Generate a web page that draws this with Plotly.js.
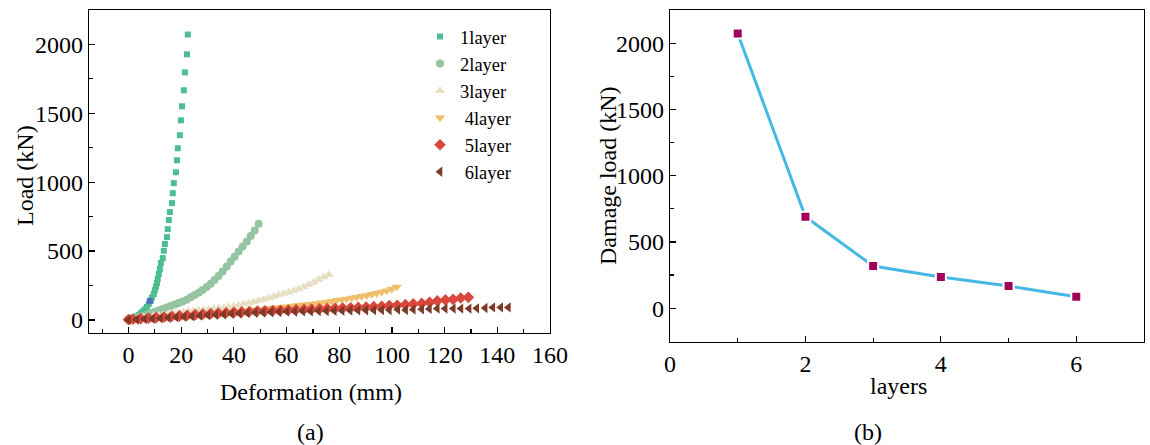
<!DOCTYPE html>
<html>
<head>
<meta charset="utf-8">
<script src="https://cdn.plot.ly/plotly-3.0.1.min.js"></script>
<style>html,body{margin:0;padding:0;background:#fff;}#chart{width:1150px;height:445px;}</style>
</head>
<body>
<div id="chart"></div>
<script>
// ---- Panel (a): load-deformation curves ----
const seriesNames = ["1layer", "2layer", "3layer", " 4layer", " 5layer", " 6layer"];

const x1 = [0.1,1.6,2.8,3.9,4.7,5.4,6.2,7.0,7.7,8.5,8.9,9.6,10.0,10.4,10.8,11.1,11.5,11.9,12.3,13.0,13.4,13.8,14.6,14.9,15.3,15.7,16.5,16.8,17.2,18.0,18.4,18.7,19.5,19.9,20.3,21.0,21.4,22.2,22.5];
const y1 = [7,17,26,36,48,62,77,94,116,140,164,188,215,241,268,299,333,370,413,449,502,551,601,659,725,783,848,920,993,1072,1159,1246,1341,1449,1551,1667,1797,1928,2072];

const x2 = [0,0.9,2.4,3.9,5.4,6.9,8.4,9.9,11.4,12.9,14.4,16.0,17.5,19.0,20.5,22.1,23.6,25.1,26.6,28.1,29.7,31.2,32.7,34.2,35.7,37.3,38.8,40.3,41.8,43.3,44.9,46.4,47.9,49.4];
const y2 = [4,8,14,21,29,38,48,58,68,79,90,101,112,122,133,147,164,181,198,217,239,263,290,319,352,388,425,459,497,533,570,609,649,698];

const x3 = [0,1.9,3.8,5.7,7.6,9.5,11.4,13.3,15.2,17.1,19.0,20.9,22.8,24.7,26.6,28.5,30.4,32.3,34.2,36.1,38.0,39.9,41.8,43.7,45.6,47.5,49.4,51.3,53.2,55.1,57.0,58.9,60.8,62.7,64.6,66.5,68.4,70.3,72.2,74.1,76.0];
const y3 = [3,8,13,18,23,28,33,38,43,48,53,58,62,66,70,73,76,80,84,89,94,99,105,113,121,130,139,149,160,170,181,191,201,212,225,239,256,272,292,311,328];

const x4 = [0,1.1,3.0,4.9,6.8,8.7,10.6,12.5,14.4,16.3,18.2,20.1,22.0,23.9,25.8,27.7,29.6,31.5,33.4,35.3,37.2,39.1,41.0,42.9,44.8,46.7,48.6,50.5,52.4,54.3,56.2,58.1,60.0,61.9,63.8,65.7,67.6,69.5,71.4,73.3,75.2,77.1,79.0,80.9,82.8,84.7,86.6,88.5,90.4,92.3,94.2,96.1,98.0,99.9,101.8];
const y4 = [1,3,5,7,9,11,14,16,18,21,23,26,28,30,33,36,39,42,45,48,51,54,57,60,64,68,72,76,80,84,88,92,96,100,104,108,112,116,120,124,128,135,142,147,152,159,164,171,178,186,193,203,212,225,239];

const x5 = [0,1.7,4.6,7.6,10.5,13.5,16.4,19.4,22.3,25.3,28.2,31.2,34.1,37.1,40.0,43.0,45.9,48.9,51.8,54.8,57.7,60.7,63.6,66.6,69.5,72.5,75.4,78.4,81.3,84.3,87.2,90.2,93.1,96.1,99.0,102.0,105.1,108.1,111.3,114.3,117.2,120.3,123.2,126.1,129.0];
const y5 = [2,5,9,13,17,21,26,30,34,38,42,46,49,52,55,58,61,64,66,68,70,72,74,76,78,80,82,84,86,88,91,93,96,99,104,106,111,116,120,128,138,145,149,159,164];

const x6 = [0,3.1,6.1,9.1,12.1,15.1,18.1,21.1,24.1,27.1,30.1,33.1,36.1,39.1,42.1,45.1,48.1,51.1,54.1,57.1,60.1,63.1,66.1,69.1,72.1,75.1,78.1,81.1,84.1,87.1,90.1,93.1,96.1,99.0,102.2,105.2,108.1,111.3,114.2,117.2,120.2,123.3,126.2,129.3,132.2,135.4,138.3,141.3,144.2];
const y6 = [0,3,6,9,12,16,19,23,27,31,35,38,41,44,47,50,52,54,56,58,60,61,62,63,64,65,66,67,68,69,70,71,72,72,75,72,75,77,80,82,82,82,82,82,84,87,91,91,91];

// stray blue marker visible in the reference
const xBlue = [8.1];
const yBlue = [138];

// ---- Panel (b): damage load vs layers ----
const layers = [1, 2, 3, 4, 5, 6];
const damageLoad = [2072, 690, 318, 236, 167, 86];

const font = "'Liberation Serif', 'Times New Roman', Times, serif";
const colors = ["#4cbe8f", "#95c4a2", "#e8dfc4", "#efc06c", "#d8473a", "#7c3a28"];
const symbols = ["square", "circle", "triangle-up", "triangle-down", "diamond", "triangle-left"];
const sizes = [6, 8, 9, 9, 9, 9];
const xs = [x1, x2, x3, x4, x5, x6];
const ys = [y1, y2, y3, y4, y5, y6];

const traces = [];
for (let i = 0; i < 6; i++) {
  traces.push({
    x: xs[i], y: ys[i], name: seriesNames[i], type: "scatter", mode: "markers",
    marker: {symbol: symbols[i], color: colors[i], size: sizes[i]},
    xaxis: "x", yaxis: "y"
  });
}
traces.push({
  x: xBlue, y: yBlue, type: "scatter", mode: "markers", showlegend: false,
  marker: {symbol: "square", color: "#4b6fc4", size: 6}, xaxis: "x", yaxis: "y"
});
traces.push({
  x: layers, y: damageLoad, type: "scatter", mode: "lines+markers", showlegend: false,
  line: {color: "#45b8e3", width: 3},
  marker: {symbol: "square", color: "#a0005a", size: 10, line: {color: "#ffffff", width: 2}},
  xaxis: "x2", yaxis: "y2"
});

const axBase = {
  showline: true, linecolor: "#000", linewidth: 1.3, mirror: true,
  ticks: "inside", ticklen: 6, tickwidth: 1.2, tickcolor: "#000",
  showgrid: false, zeroline: false,
  tickfont: {family: font, size: 24, color: "#000"}
};
function ax(extra) { return Object.assign(JSON.parse(JSON.stringify(axBase)), extra); }
const minorX = (d) => ({dtick: d, ticks: "inside", ticklen: 4, tickcolor: "#000", tickwidth: 1.2});

const titleFont = {family: font, size: 24, color: "#000"};
function note(text, x, y, angle) {
  return {text: text, xref: "paper", yref: "paper", x: x / 1150, y: 1 - y / 445,
    xanchor: "center", yanchor: "middle", showarrow: false, textangle: angle || 0, font: titleFont};
}

const layout = {
  width: 1150, height: 445,
  margin: {l: 0, r: 0, t: 0, b: 0},
  paper_bgcolor: "#fff", plot_bgcolor: "#fff",
  font: {family: font, color: "#000"},
  xaxis: ax({domain: [89/1150, 550/1150], range: [-15, 160], dtick: 20, tick0: 0, minor: minorX(10), anchor: "y"}),
  yaxis: ax({domain: [1 - 333/445, 1 - 10/445], range: [-95, 2250], dtick: 500, tick0: 0, minor: minorX(250), anchor: "x"}),
  xaxis2: ax({domain: [670/1150, 1144/1150], range: [0, 7], dtick: 2, tick0: 0, minor: minorX(1), anchor: "y2"}),
  yaxis2: ax({domain: [1 - 342/445, 1 - 10/445], range: [-255, 2250], dtick: 500, tick0: 0, minor: minorX(250), anchor: "x2"}),
  showlegend: true,
  legend: {x: 420/1150, y: 1 - 18/445, xanchor: "left", yanchor: "top",
    font: {family: font, size: 18.5, color: "#000"}, bgcolor: "rgba(0,0,0,0)", tracegroupgap: 0,
    itemwidth: 30},
  annotations: [
    note("Deformation (mm)", 311, 392),
    note("Load (kN)", 25, 176, -90),
    note("layers", 898, 386),
    note("Damage load (kN)", 608, 176, -90),
    note("(a)", 310, 432),
    note("(b)", 868, 432)
  ]
};

Plotly.newPlot("chart", traces, layout, {displayModeBar: false, staticPlot: true});
</script>
</body>
</html>
